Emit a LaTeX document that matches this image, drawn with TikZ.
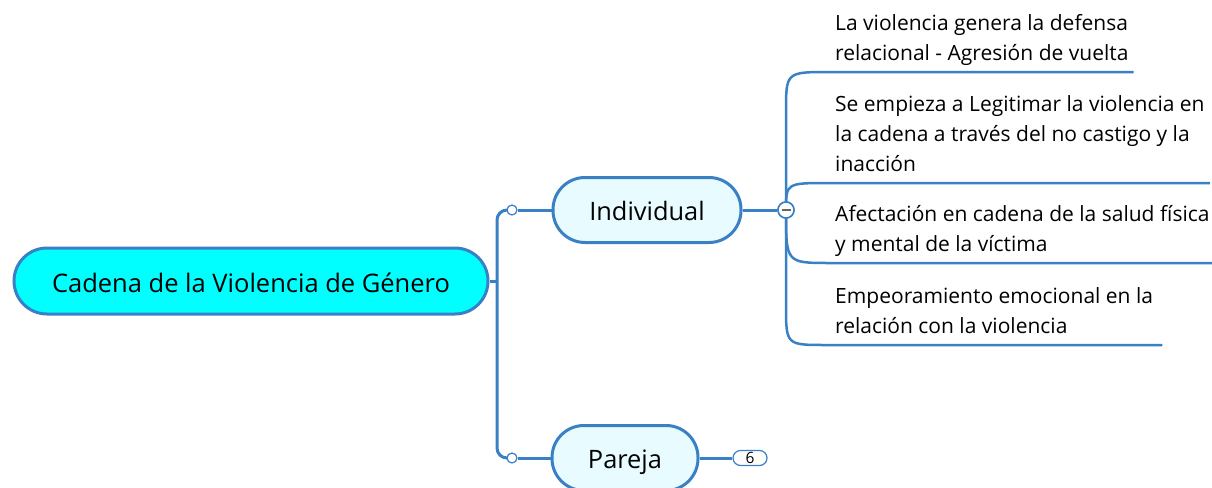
\documentclass[tikz,border=0pt]{standalone}
\usepackage{fontspec}
\setmainfont{Open Sans}
\usetikzlibrary{positioning,calc}
\definecolor{mapblue}{RGB}{58,128,196}
\definecolor{rootfill}{RGB}{0,255,255}
\definecolor{topicfill}{RGB}{232,252,255}
\tikzset{
  rootbox/.style={draw=mapblue, line width=3pt, rounded corners=33pt, fill=rootfill, minimum width=474pt, minimum height=66pt, text height=27pt, text depth=5pt, font=\fontsize{25.5}{30}\selectfont},
  topicbox/.style={draw=mapblue, line width=3pt, rounded corners=32pt, fill=topicfill, minimum height=65pt, text height=26pt, text depth=6pt, font=\fontsize{25.4}{30}\selectfont},
  branch/.style={draw=mapblue, line width=3pt},
  twig/.style={draw=mapblue, line width=2.5pt},
  leaf/.style={anchor=south west, align=left, inner xsep=5pt, inner ysep=2.5pt, font=\fontsize{21}{30}\selectfont, execute at end node=\strut},
  knob/.style={circle, draw=mapblue, fill=white, line width=1.2pt, inner sep=0pt, minimum size=10pt},
  fold/.style={circle, draw=mapblue, fill=white, line width=1.5pt, inner sep=0pt, minimum size=16pt},
  badge/.style={draw=mapblue, fill=white, line width=1.2pt, rounded corners=7.5pt, minimum width=34pt, minimum height=15pt, inner sep=0pt, font=\fontsize{15.5}{16}\selectfont}
}

\begin{document}
\begin{tikzpicture}[x=1pt, y=-1pt]
  \useasboundingbox (0,0) rectangle (1212,487);
  % main topic
  \node[rootbox] (root) at (251,281) {Cadena de la Violencia de Género};
  \coordinate (hub) at (497,281);
  \node[knob] (k1) at (512,210) {};
  \node[knob] (k2) at (512,458) {};
  \node[topicbox, minimum width=188pt] (ind) at (647,210) {Individual};
  \node[topicbox, minimum width=146pt] (par) at (625,458) {Pareja};
  \draw[branch] (root.east) -- (hub);
  \draw[branch, rounded corners=10pt] (k1.west) -| (hub) |- (k2.west);
  \draw[branch] (k1.east) -- (ind.west);
  \draw[branch] (k2.east) -- (par.west);
  \node[fold] (col) at (786,210) {};
  \node[badge] (cnt) at (750,458) {6};
  \draw[branch] (ind.east) -- (col.west);
  \draw[branch] (par.east) -- (cnt.west);
  % subtopics
  \node[leaf] (l1) at (830,72) {La violencia genera la defensa\\relacional - Agresión de vuelta};
  \node[leaf] (l2) at (830,183) {Se empieza a Legitimar la violencia en\\la cadena a través del no castigo y la\\inacción};
  \node[leaf] (l3) at (830,263) {Afectación en cadena de la salud física\\y mental de la víctima};
  \node[leaf, inner xsep=9pt] (l4) at (826,345) {Empeoramiento emocional en la\\relación con la violencia};
  \draw[twig] (col.center) -- ($(col |- l1.south west)+(0,40)$) .. controls (col |- l1.south west) .. (l1.south west) -- (l1.south east);
  \draw[twig] (col.center) .. controls (col |- l2.south west) .. (l2.south west) -- (l2.south east);
  \draw[twig] (col.center) .. controls (col |- l3.south west) .. (l3.south west) -- (l3.south east);
  \draw[twig] (col.center) -- ($(col |- l4.south west)+(0,-40)$) .. controls (col |- l4.south west) .. (l4.south west) -- (l4.south east);
  \node[fold] at (col) {};
  \draw[gray!80!black, line width=2pt] ([xshift=-4.5pt]col.center) -- ([xshift=4.5pt]col.center);
\end{tikzpicture}
\end{document}
